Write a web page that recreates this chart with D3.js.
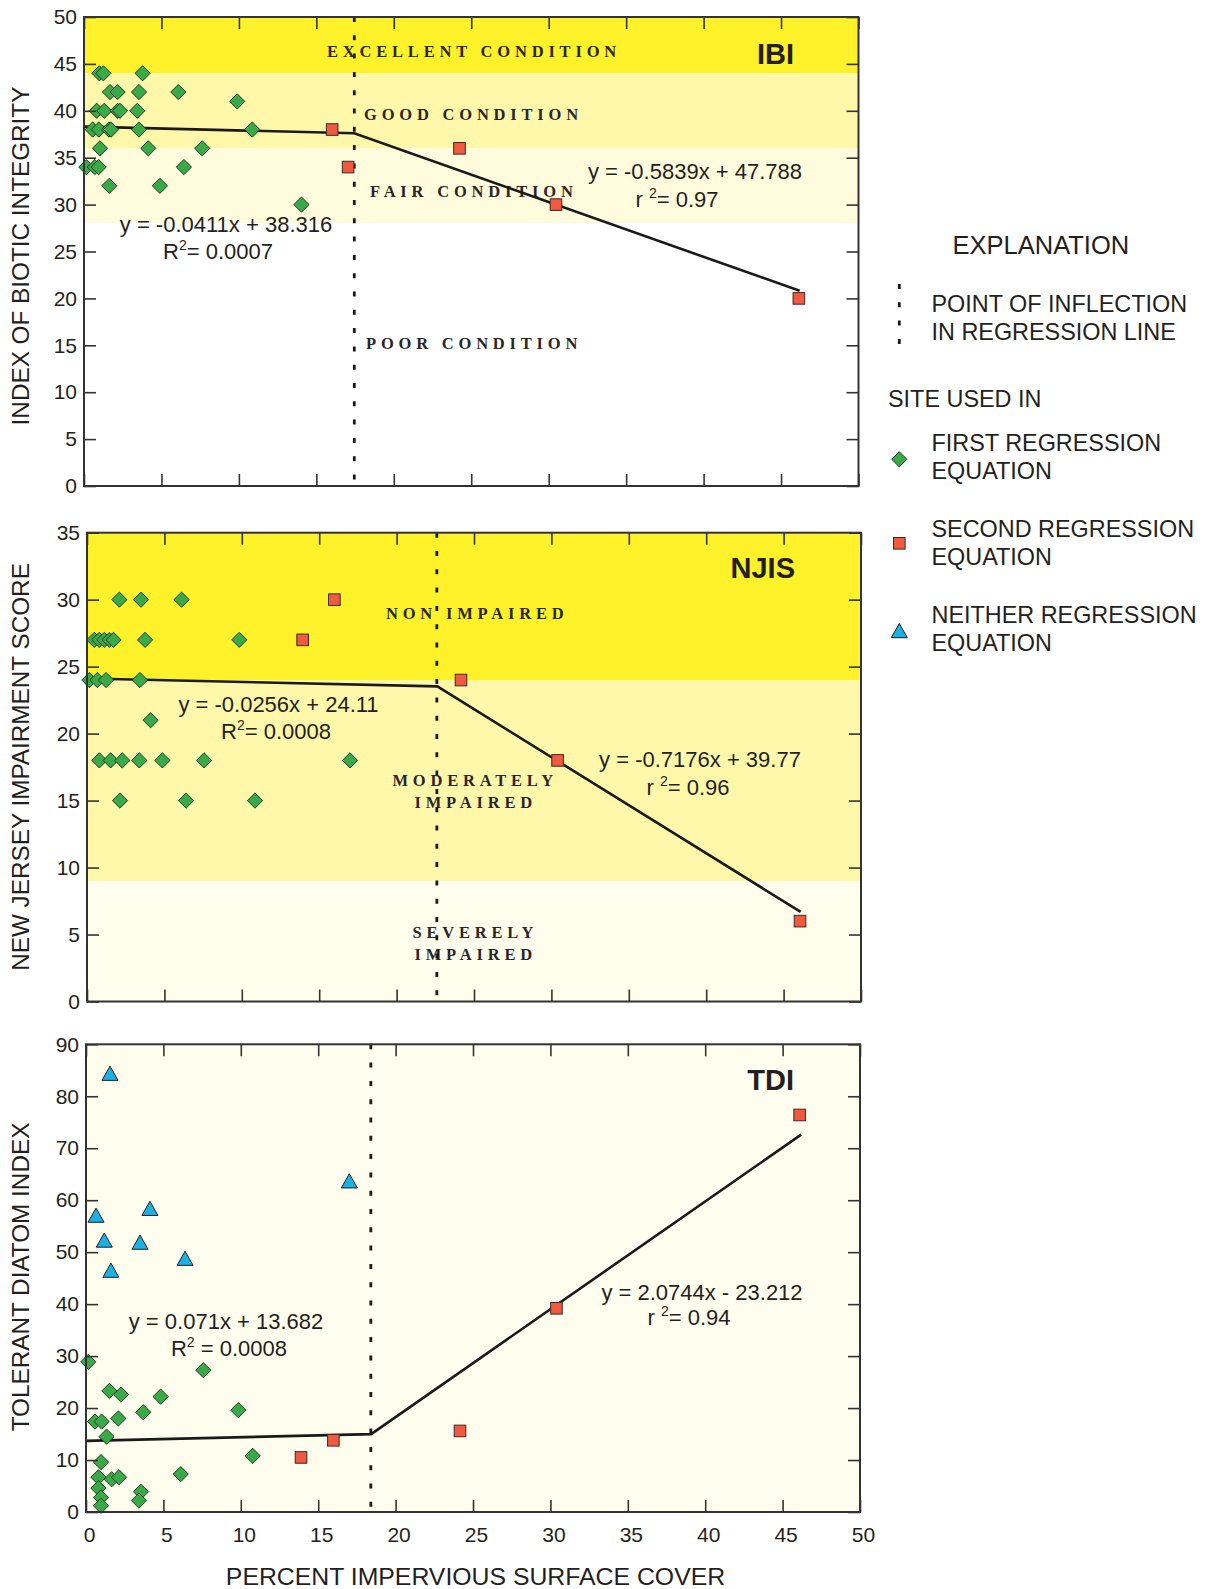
<!DOCTYPE html>
<html><head><meta charset="utf-8">
<script src="https://cdn.jsdelivr.net/npm/d3@7"></script>
<style>
html,body{margin:0;padding:0;background:#fff;}
svg{display:block;}
</style></head>
<body>
<svg id="chart" width="1208" height="1589"></svg>
<script>
// ---------------- DATA ----------------
const xTicks = [0,5,10,15,20,25,30,35,40,45,50];

// IBI panel
const ibiYTicks = [0,5,10,15,20,25,30,35,40,45,50];
const ibiFirstX = [0.99,1.25,3.78, 1.68,2.17,3.55,6.09, 9.89, 0.82,1.31,2.17,2.32,3.44, 0.56,0.95,1.61,1.75,3.55,10.86, 1.03,4.15,7.63, 0.15,0.7,0.95,6.45, 1.63,4.9, 14.04];
const ibiFirstY = [44,44,44, 42,42,42,42, 41, 40,40,40,40,40, 38,38,38,38,38,38, 36,36,36, 34,34,34,34, 32,32, 30];
const ibiSecondX = [16.02,17.05,24.24,30.47,46.15];
const ibiSecondY = [38,34,36,30,20];
const ibiLineX = [0,17.45,46.2];
const ibiLineY = [38.316,37.6,20.81];
const ibiBreak = 17.45;
const ibiBandLo = [44,36,28,0];
const ibiBandHi = [50,44,36,28];
const ibiBandNames = ["EXCELLENT CONDITION","GOOD CONDITION","FAIR CONDITION","POOR CONDITION"];

// NJIS panel
const njisYTicks = [0,5,10,15,20,25,30,35];
const njisFirstX = [2.09,3.49,6.11, 0.47,0.79,1.12,1.45,1.71,3.75,9.84, 0.15,0.67,1.23,3.42, 4.11, 0.8,1.53,2.28,3.38,4.87,7.56,16.99, 2.13,6.4,10.85];
const njisFirstY = [30,30,30, 27,27,27,27,27,27,27, 24,24,24,24, 21, 18,18,18,18,18,18,18, 15,15,15];
const njisSecondX = [15.98,13.93,24.16,30.4,46.06];
const njisSecondY = [30,27,24,18,6];
const njisLineX = [0,22.63,46.1];
const njisLineY = [24.11,23.53,6.69];
const njisBreak = 22.6;
const njisBandLo = [24,9,0];
const njisBandHi = [35,24,9];

// TDI panel
const tdiYTicks = [0,10,20,30,40,50,60,70,80,90];
const tdiFirstX = [0.15,7.58,1.51,2.26,4.82,3.7,9.84,0.58,1.01,2.09,1.33,10.77,0.97,6.12,0.8,1.66,2.13,0.8,0.97,0.97,3.55,3.42];
const tdiFirstY = [28.9,27.3,23.3,22.6,22.2,19.2,19.6,17.4,17.4,18.0,14.5,10.8,9.6,7.3,6.7,6.3,6.7,4.6,2.8,1.2,3.9,2.2];
const tdiSecondX = [13.89,15.98,24.16,30.39,46.1];
const tdiSecondY = [10.5,13.8,15.6,39.2,76.4];
const tdiNeitherX = [1.55,17.01,0.65,4.13,1.18,3.49,6.4,1.61];
const tdiNeitherY = [84.1,63.4,56.8,58.1,52.0,51.6,48.5,46.2];
const tdiLineX = [0,18.42,46.2];
const tdiLineY = [13.682,14.99,72.63];
const tdiBreak = 18.4;

// legend
const legendItems = [
  {sym:"diamond", lines:["FIRST REGRESSION","EQUATION"]},
  {sym:"square",  lines:["SECOND REGRESSION","EQUATION"]},
  {sym:"triangle",lines:["NEITHER REGRESSION","EQUATION"]}
];

// ---------------- DRAWING ----------------
const svg = d3.select("#chart");
const FONT = "'Liberation Sans', Arial, Helvetica, sans-serif";
const SERIF = "'Liberation Serif', 'Times New Roman', serif";
const INK = "#231f20";
const C_GREEN = "#3aaa49", C_RED = "#f15a40", C_BLUE = "#1bb1e4";

const panels = [
  {name:"IBI", title:"INDEX OF BIOTIC INTEGRITY", left:84, right:858.5, top:17, bottom:486, yMax:50, yTicks:ibiYTicks,
   first:[ibiFirstX,ibiFirstY], second:[ibiSecondX,ibiSecondY], neither:null,
   line:[ibiLineX,ibiLineY], brk:ibiBreak,
   bands:ibiBandLo.map((lo,i)=>({lo, hi:ibiBandHi[i], fill:["#fff22b","#fff8aa","#fffbdc","#ffffff"][i]})),
   labels:[{t:ibiBandNames[0],x:327,y:56.5},{t:ibiBandNames[1],x:364,y:119.5},{t:ibiBandNames[2],x:370,y:196.5},{t:ibiBandNames[3],x:366,y:348.5}],
   tag:{x:794,y:64},
   eqs:[{main:"y = -0.0411x + 38.316",x:226,y:232},{r:"R",val:"= 0.0007",x:218,y:259},
        {main:"y = -0.5839x + 47.788",x:695,y:179},{r:"r ",val:"= 0.97",x:677,y:207}],
   xLabels:false, titleCy:256},
  {name:"NJIS", title:"NEW JERSEY IMPAIRMENT SCORE", left:87, right:861, top:532.7, bottom:1001.5, yMax:35, yTicks:njisYTicks,
   first:[njisFirstX,njisFirstY], second:[njisSecondX,njisSecondY], neither:null,
   line:[njisLineX,njisLineY], brk:njisBreak,
   bands:njisBandLo.map((lo,i)=>({lo, hi:njisBandHi[i], fill:["#fff22b","#fff8aa","#fffdec"][i]})),
   labels:[{t:"NON IMPAIRED",x:386,y:618.5},{t:"MODERATELY",x:392.5,y:786},{t:"IMPAIRED",x:414.5,y:808},
           {t:"SEVERELY",x:412.5,y:937.5},{t:"IMPAIRED",x:414.5,y:960}],
   tag:{x:795,y:578},
   eqs:[{main:"y = -0.0256x + 24.11",x:278.5,y:712},{r:"R",val:"= 0.0008",x:276,y:739},
        {main:"y = -0.7176x + 39.77",x:700,y:767},{r:"r ",val:"= 0.96",x:688,y:795}],
   xLabels:false, titleCy:767},
  {name:"TDI", title:"TOLERANT DIATOM INDEX", left:86, right:860, top:1044.3, bottom:1512, yMax:90, yTicks:tdiYTicks,
   first:[tdiFirstX,tdiFirstY], second:[tdiSecondX,tdiSecondY], neither:[tdiNeitherX,tdiNeitherY],
   line:[tdiLineX,tdiLineY], brk:tdiBreak,
   bands:[{lo:0,hi:90,fill:"#fffdee"}],
   labels:[],
   tag:{x:794,y:1090},
   eqs:[{main:"y = 0.071x + 13.682",x:226,y:1329},{r:"R",val:" = 0.0008",x:229,y:1356},
        {main:"y = 2.0744x - 23.212",x:702,y:1300},{r:"r ",val:"= 0.94",x:689,y:1325}],
   xLabels:true, titleCy:1277}
];

function diamondPath(r){return `M0,${-r}L${r},0L0,${r}L${-r},0Z`;}
function drawSymbol(g, type, x, y){
  if(type==="diamond"){
    g.append("path").attr("d",diamondPath(7.6)).attr("transform",`translate(${x},${y})`)
      .attr("fill",C_GREEN).attr("stroke","#1f3b22").attr("stroke-width",1);
  } else if(type==="square"){
    g.append("rect").attr("x",x-5.8).attr("y",y-5.8).attr("width",11.6).attr("height",11.6)
      .attr("fill",C_RED).attr("stroke","#3b2a28").attr("stroke-width",1);
  } else {
    g.append("path").attr("d","M0,-8.8L8,5.4L-8,5.4Z").attr("transform",`translate(${x},${y})`)
      .attr("fill",C_BLUE).attr("stroke","#1d1d1d").attr("stroke-width",1);
  }
}

panels.forEach(p=>{
  const x = d3.scaleLinear().domain([0,50]).range([p.left,p.right]);
  const y = d3.scaleLinear().domain([0,p.yMax]).range([p.bottom,p.top]);
  const g = svg.append("g");

  // bands
  g.selectAll("rect.band").data(p.bands).join("rect").attr("class","band")
    .attr("x",x(0)).attr("width",x(50)-x(0))
    .attr("y",d=>y(d.hi)).attr("height",d=>y(d.lo)-y(d.hi)).attr("fill",d=>d.fill);

  // zone labels
  p.labels.forEach(l=>{
    g.append("text").attr("x",l.x).attr("y",l.y).text(l.t)
      .attr("font-family",SERIF).attr("font-weight","bold").attr("font-size",16.5)
      .attr("letter-spacing",4.8).attr("fill","#2a2626");
  });

  // inflection dotted line
  g.append("line").attr("x1",x(p.brk)).attr("x2",x(p.brk)).attr("y1",y(p.yMax)).attr("y2",y(0))
    .attr("stroke","#1a1a1a").attr("stroke-width",2.8).attr("stroke-dasharray","5,13.3");

  // regression line
  const pts = p.line[0].map((v,i)=>[v,p.line[1][i]]);
  g.append("path").attr("d",d3.line().x(d=>x(d[0])).y(d=>y(d[1]))(pts))
    .attr("fill","none").attr("stroke","#1a1a1a").attr("stroke-width",2.6);

  // points
  if(p.neither) p.neither[0].forEach((v,i)=>drawSymbol(g,"triangle",x(v),y(p.neither[1][i])));
  p.second[0].forEach((v,i)=>drawSymbol(g,"square",x(v),y(p.second[1][i])));
  p.first[0].forEach((v,i)=>drawSymbol(g,"diamond",x(v),y(p.first[1][i])));

  // equations
  p.eqs.forEach(e=>{
    const t = g.append("text").attr("x",e.x).attr("y",e.y).attr("text-anchor","middle")
      .attr("font-family",FONT).attr("font-size",22).attr("fill",INK);
    if(e.main){ t.text(e.main); }
    else {
      t.append("tspan").text(e.r);
      t.append("tspan").text("2").attr("font-size",14).attr("dy",-9);
      t.append("tspan").text(e.val).attr("dy",9);
    }
  });

  // panel tag
  g.append("text").attr("x",p.tag.x).attr("y",p.tag.y).attr("text-anchor","end")
    .attr("font-family",FONT).attr("font-weight","bold").attr("font-size",29).attr("fill",INK).text(p.name);

  // frame
  g.append("rect").attr("x",x(0)).attr("y",y(p.yMax)).attr("width",x(50)-x(0)).attr("height",y(0)-y(p.yMax))
    .attr("fill","none").attr("stroke","#333").attr("stroke-width",2);

  // axes (inward ticks)
  const ax = (sel)=>{ sel.select(".domain").remove(); sel.selectAll(".tick line").attr("stroke","#333").attr("stroke-width",1.6); };
  const yl = g.append("g").attr("transform",`translate(${x(0)},0)`)
    .call(d3.axisLeft(y).tickValues(p.yTicks).tickSize(-12).tickPadding(7).tickFormat(d3.format("d")));
  ax(yl);
  yl.selectAll("text").attr("font-family",FONT).attr("font-size",21).attr("fill",INK);
  const yr = g.append("g").attr("transform",`translate(${x(50)},0)`)
    .call(d3.axisRight(y).tickValues(p.yTicks).tickSize(-12).tickFormat(""));
  ax(yr);
  const xt = g.append("g").attr("transform",`translate(0,${y(p.yMax)})`)
    .call(d3.axisTop(x).tickValues(xTicks).tickSize(-12).tickFormat(""));
  ax(xt);
  const xb = g.append("g").attr("transform",`translate(0,${y(0)})`)
    .call(d3.axisBottom(x).tickValues(xTicks).tickSize(-12).tickPadding(15).tickFormat(p.xLabels?d3.format("d"):""));
  ax(xb);
  xb.selectAll("text").attr("font-family",FONT).attr("font-size",21).attr("fill",INK).attr("dx",3);

  // y title
  svg.append("text").attr("transform",`translate(29,${p.titleCy}) rotate(-90)`).attr("text-anchor","middle")
    .attr("font-family",FONT).attr("font-size",24.3).attr("fill",INK).text(p.title);
});

// x title
svg.append("text").attr("x",475.5).attr("y",1585).attr("text-anchor","middle")
  .attr("font-family",FONT).attr("font-size",24.8).attr("fill",INK).text("PERCENT IMPERVIOUS SURFACE COVER");

// legend
const lg = svg.append("g").attr("font-family",FONT).attr("fill",INK);
lg.append("text").attr("x",952.5).attr("y",254).attr("font-size",25.5).text("EXPLANATION");
lg.append("line").attr("x1",899.3).attr("x2",899.3).attr("y1",284).attr("y2",344)
  .attr("stroke","#1a1a1a").attr("stroke-width",2.8).attr("stroke-dasharray","5,13.3");
lg.append("text").attr("x",931.5).attr("y",311.5).attr("font-size",23.4).text("POINT OF INFLECTION");
lg.append("text").attr("x",931.5).attr("y",340).attr("font-size",23.4).text("IN REGRESSION LINE");
lg.append("text").attr("x",888).attr("y",406.5).attr("font-size",23.4).text("SITE USED IN");
const legBase = [450.5,536.5,622.5];
const legSymY = [459.3,543.3,632.3];
legendItems.forEach((it,i)=>{
  drawSymbol(lg,it.sym,899.3,legSymY[i]);
  it.lines.forEach((ln,j)=>lg.append("text").attr("x",931.5).attr("y",legBase[i]+j*28.6).attr("font-size",23.4).text(ln));
});
</script>
</body></html>
